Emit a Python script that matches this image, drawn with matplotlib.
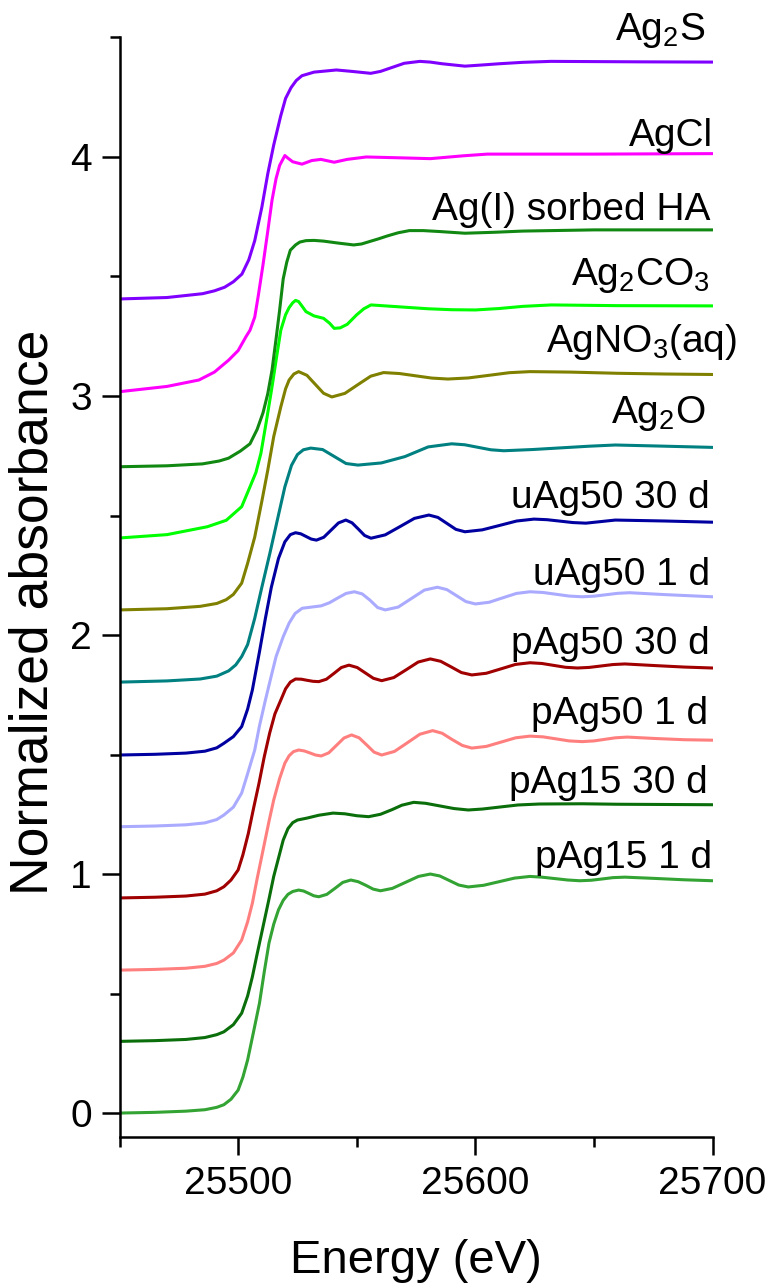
import numpy as np
import matplotlib.pyplot as plt
from matplotlib.ticker import MultipleLocator

plt.rcParams['font.family'] = ['Liberation Sans', 'DejaVu Sans']
plt.rcParams['mathtext.fontset'] = 'custom'
plt.rcParams['mathtext.rm'] = 'Liberation Sans'

#----------------------------------------------------------#
# Stacked Ag K-edge XANES spectra (values as plotted)      #
#----------------------------------------------------------#

e_pag15_1d = [25450, 25465, 25478, 25486, 25491, 25494, 25497, 25500, 25502, 25504, 25506.5, 25509,
              25511, 25513, 25515, 25517, 25519, 25521, 25523, 25525.5, 25527.6, 25529.8, 25531.9, 25534,
              25537.4, 25540.8, 25544.1, 25547.5, 25550.6, 25553.8, 25556.9, 25560, 25565, 25570.5, 25576, 25581,
              25585, 25589, 25593, 25597, 25603.5, 25610, 25616.5, 25623, 25628, 25633.5, 25639, 25644,
              25648.8, 25653.5, 25658, 25663, 25675, 25688, 25700]
a_pag15_1d = [0.0, 0.003, 0.008, 0.014, 0.024, 0.035, 0.058, 0.096, 0.15, 0.222, 0.34, 0.46,
              0.59, 0.711, 0.79, 0.85, 0.89, 0.915, 0.927, 0.933, 0.929, 0.919, 0.909, 0.905,
              0.915, 0.94, 0.965, 0.975, 0.968, 0.953, 0.937, 0.93, 0.94, 0.965, 0.99, 1.0,
              0.992, 0.973, 0.954, 0.946, 0.953, 0.968, 0.983, 0.99, 0.987, 0.981, 0.975, 0.972,
              0.974, 0.9795, 0.985, 0.987, 0.982, 0.976, 0.972]

e_pag15_30d = [25450, 25465, 25478, 25486, 25491, 25494, 25498, 25501.5, 25504, 25506, 25508, 25510.5,
               25513, 25515, 25517, 25519, 25521, 25523, 25525, 25529, 25534, 25540, 25545, 25550,
               25555, 25560, 25565, 25569, 25574, 25579, 25585, 25591, 25597, 25603, 25610, 25618,
               25627, 25645, 25660, 25680, 25700]
a_pag15_30d = [0.30, 0.303, 0.308, 0.316, 0.328, 0.34, 0.37, 0.418, 0.49, 0.57, 0.665, 0.78,
               0.895, 0.99, 1.066, 1.142, 1.19, 1.215, 1.226, 1.234, 1.246, 1.255, 1.252, 1.244,
               1.24, 1.25, 1.27, 1.288, 1.30, 1.296, 1.285, 1.274, 1.268, 1.272, 1.28, 1.289,
               1.293, 1.294, 1.292, 1.291, 1.29]

e_pag50_1d = [25450, 25465, 25478, 25486, 25491, 25494, 25498, 25501.5, 25504, 25506, 25508, 25510.5,
              25513, 25515, 25517.5, 25519.7, 25521.5, 25523.3, 25525.5, 25527.9, 25530.3, 25532.6, 25535, 25538.2,
              25541.4, 25544.6, 25547.8, 25551, 25554.2, 25557.3, 25560.5, 25565.9, 25571.3, 25576.6, 25582, 25586,
              25590, 25594.5, 25598.5, 25604.6, 25610.8, 25617, 25623, 25628.5, 25634, 25639.5, 25645, 25650,
              25654.5, 25659, 25664, 25676, 25688, 25700]
a_pag50_1d = [0.598, 0.601, 0.606, 0.614, 0.626, 0.64, 0.67, 0.724, 0.80, 0.878, 0.98, 1.10,
              1.22, 1.31, 1.40, 1.464, 1.495, 1.512, 1.519, 1.515, 1.5065, 1.498, 1.494, 1.507,
              1.538, 1.569, 1.582, 1.57, 1.54, 1.51, 1.498, 1.513, 1.549, 1.585, 1.60, 1.589,
              1.564, 1.538, 1.527, 1.534, 1.552, 1.57, 1.577, 1.574, 1.5655, 1.557, 1.554, 1.557,
              1.5635, 1.57, 1.573, 1.567, 1.562, 1.56]

e_pag50_30d = [25450, 25465, 25478, 25486, 25491, 25494, 25497, 25500, 25502, 25504.3, 25506.5, 25508.8,
               25511, 25513.3, 25515.5, 25518, 25520, 25522, 25524.2, 25526.6, 25529.1, 25531.5, 25534, 25537.2,
               25540.4, 25543.5, 25546.7, 25550.2, 25553.6, 25557, 25560.5, 25565.6, 25570.8, 25575.9, 25581, 25585.4,
               25589.8, 25594.1, 25598.5, 25604.6, 25610.8, 25616.9, 25623, 25628, 25633, 25638, 25643, 25648,
               25653, 25658, 25663, 25676, 25688, 25700]
a_pag50_30d = [0.90, 0.903, 0.908, 0.916, 0.93, 0.947, 0.975, 1.017, 1.08, 1.17, 1.275, 1.38,
               1.49, 1.59, 1.67, 1.728, 1.775, 1.803, 1.816, 1.8152, 1.8105, 1.8064, 1.805, 1.815,
               1.8395, 1.864, 1.874, 1.864, 1.8415, 1.819, 1.809, 1.822, 1.8545, 1.887, 1.90, 1.89,
               1.8665, 1.843, 1.833, 1.84, 1.8585, 1.877, 1.884, 1.881, 1.873, 1.865, 1.862, 1.8645,
               1.8705, 1.8765, 1.879, 1.872, 1.866, 1.862]

e_uag50_1d = [25450, 25465, 25478, 25486, 25491, 25494, 25498, 25501.5, 25504, 25507, 25509, 25511.5,
              25514, 25516, 25519, 25521.5, 25524, 25527, 25531, 25535, 25538.5, 25542, 25545.5, 25549,
              25552.3, 25555.5, 25558.8, 25562, 25567.5, 25573, 25578.5, 25584, 25588, 25592, 25596, 25600,
              25605.8, 25611.5, 25617.3, 25623, 25628.5, 25634, 25639.5, 25645, 25650, 25655, 25660, 25665,
              25680, 25700]
a_uag50_1d = [1.198, 1.201, 1.206, 1.214, 1.228, 1.247, 1.28, 1.339, 1.42, 1.519, 1.62, 1.728,
              1.83, 1.91, 1.993, 2.05, 2.09, 2.112, 2.117, 2.122, 2.135, 2.155, 2.174, 2.181,
              2.172, 2.1465, 2.115, 2.105, 2.117, 2.1525, 2.188, 2.20, 2.19, 2.165, 2.14, 2.13,
              2.137, 2.1555, 2.174, 2.181, 2.178, 2.1705, 2.163, 2.16, 2.1625, 2.1685, 2.1745, 2.177,
              2.169, 2.16]

e_uag50_30d = [25450, 25465, 25478, 25486, 25491, 25494, 25498, 25501.5, 25504, 25506, 25509, 25511.5,
               25514, 25517, 25519.7, 25522, 25524.2, 25526.4, 25528.6, 25530.8, 25533, 25536.1, 25539.2, 25542.3,
               25545.4, 25548, 25550.7, 25553.3, 25556, 25562, 25568.2, 25574.3, 25580.4, 25584.2, 25588, 25591.8,
               25595.6, 25602.9, 25610.2, 25617.4, 25624.7, 25630.2, 25635.7, 25641.1, 25646.6, 25652.8, 25659, 25680,
               25700]
a_uag50_30d = [1.498, 1.501, 1.506, 1.514, 1.528, 1.547, 1.575, 1.617, 1.69, 1.77, 1.93, 2.07,
               2.20, 2.32, 2.39, 2.42, 2.428, 2.4235, 2.4125, 2.4015, 2.397, 2.409, 2.439, 2.469,
               2.481, 2.4695, 2.443, 2.4165, 2.405, 2.419, 2.4535, 2.488, 2.502, 2.492, 2.467, 2.442,
               2.432, 2.44, 2.4585, 2.477, 2.485, 2.4825, 2.4765, 2.4705, 2.468, 2.4745, 2.481, 2.477,
               2.472]

e_ag2o = [25450, 25470, 25484, 25491, 25496, 25499, 25501.5, 25504, 25507, 25510, 25513.4, 25516.5,
          25519.7, 25522.5, 25525, 25527.5, 25530.6, 25535.6, 25540.6, 25545.5, 25550.5, 25560.4, 25570.3, 25580.1,
          25590, 25595.5, 25601, 25606.5, 25612, 25624, 25636, 25648, 25659, 25680, 25700]
a_ag2o = [1.803, 1.808, 1.816, 1.828, 1.85, 1.875, 1.91, 1.96, 2.07, 2.20, 2.343, 2.48,
          2.62, 2.71, 2.755, 2.775, 2.782, 2.776, 2.7465, 2.7175, 2.711, 2.72, 2.7465, 2.787,
          2.80, 2.796, 2.7855, 2.775, 2.771, 2.776, 2.783, 2.79, 2.795, 2.79, 2.785]

e_agno3 = [25450, 25470, 25484, 25491, 25495, 25498, 25501.5, 25504, 25507, 25510, 25512.5, 25515,
           25518, 25520, 25521.5, 25523.5, 25525.5, 25529, 25532.5, 25536, 25539.5, 25545, 25550.4, 25555.9,
           25561.3, 25568, 25574.8, 25581.6, 25588.4, 25597, 25605.7, 25614.3, 25623, 25640, 25660, 25680,
           25700]
a_agno3 = [2.105, 2.11, 2.12, 2.132, 2.148, 2.17, 2.217, 2.30, 2.41, 2.56, 2.69, 2.83,
           2.955, 3.03, 3.067, 3.092, 3.102, 3.0865, 3.049, 3.0115, 2.996, 3.011, 3.047, 3.083,
           3.098, 3.094, 3.0845, 3.075, 3.071, 3.0755, 3.0865, 3.0975, 3.102, 3.10, 3.095, 3.092,
           3.09]

e_ag2co3 = [25450, 25470, 25487, 25495, 25501.5, 25505, 25507.5, 25509.6, 25512, 25514.3, 25516, 25518,
            25520, 25521.5, 25523, 25524.2, 25525.5, 25527, 25528.6, 25532, 25536, 25538.5, 25540.5, 25543,
            25546, 25550, 25553, 25556, 25565, 25580, 25590, 25600, 25610, 25620, 25632, 25660,
            25700]
a_ag2co3 = [2.406, 2.42, 2.453, 2.48, 2.537, 2.62, 2.68, 2.76, 2.90, 3.039, 3.15, 3.276,
            3.34, 3.37, 3.39, 3.40, 3.395, 3.375, 3.353, 3.335, 3.325, 3.305, 3.283, 3.285,
            3.30, 3.34, 3.365, 3.381, 3.375, 3.365, 3.361, 3.36, 3.366, 3.375, 3.381, 3.378,
            3.377]

e_agha = [25450, 25470, 25485, 25492, 25496, 25501, 25505, 25508, 25510.5, 25512.5, 25514.3, 25516,
          25517.5, 25519, 25520.5, 25522, 25524.2, 25526, 25528.6, 25532, 25536, 25542, 25548.7, 25552,
          25555, 25559, 25563, 25567.5, 25572.2, 25578, 25585, 25595.6, 25608, 25620, 25650, 25700]
a_agha = [2.704, 2.708, 2.716, 2.728, 2.74, 2.77, 2.80, 2.86, 2.93, 3.01, 3.109, 3.24,
          3.36, 3.49, 3.56, 3.61, 3.632, 3.644, 3.65, 3.651, 3.648, 3.64, 3.632, 3.636,
          3.645, 3.657, 3.67, 3.683, 3.692, 3.692, 3.688, 3.681, 3.685, 3.69, 3.695, 3.695]

e_agcl = [25450, 25470, 25483.5, 25490, 25496, 25500, 25503.3, 25505, 25507, 25508.5, 25510.5, 25512.5,
          25514.3, 25516, 25517.5, 25519.7, 25521, 25523, 25526.9, 25531, 25534.9, 25540.5, 25546, 25554,
          25570, 25581, 25595, 25605, 25650, 25700]
a_agcl = [3.018, 3.04, 3.067, 3.10, 3.15, 3.19, 3.248, 3.275, 3.33, 3.42, 3.55, 3.69,
          3.82, 3.91, 3.965, 4.006, 3.995, 3.98, 3.97, 3.985, 3.99, 3.978, 3.99, 4.0,
          3.996, 3.993, 4.005, 4.012, 4.012, 4.014]

e_ag2s = [25450, 25470, 25485, 25490, 25494.3, 25498, 25501.6, 25504.5, 25507, 25510, 25512.5, 25515,
          25517.9, 25520, 25522.3, 25524.5, 25526.9, 25532, 25541.4, 25548, 25555.9, 25560, 25565, 25570,
          25576.6, 25581, 25586, 25595.6, 25603, 25610, 25620, 25631.8, 25670, 25700]
a_ag2s = [3.406, 3.412, 3.428, 3.44, 3.455, 3.478, 3.51, 3.57, 3.65, 3.79, 3.93, 4.05,
          4.17, 4.245, 4.29, 4.32, 4.34, 4.355, 4.364, 4.358, 4.35, 4.358, 4.375, 4.392,
          4.40, 4.397, 4.39, 4.38, 4.385, 4.39, 4.396, 4.40, 4.398, 4.397]

# sample names (bottom to top)
names = ['pAg15 1 d', 'pAg15 30 d', 'pAg50 1 d', 'pAg50 30 d', 'uAg50 1 d', 'uAg50 30 d',
         r'Ag$_\mathregular{2}$O', r'AgNO$_\mathregular{3}$(aq)', r'Ag$_\mathregular{2}$CO$_\mathregular{3}$',
         'Ag(I) sorbed HA', 'AgCl', r'Ag$_\mathregular{2}$S']

energies = [e_pag15_1d, e_pag15_30d, e_pag50_1d, e_pag50_30d, e_uag50_1d, e_uag50_30d,
            e_ag2o, e_agno3, e_ag2co3, e_agha, e_agcl, e_ag2s]
spectra = [a_pag15_1d, a_pag15_30d, a_pag50_1d, a_pag50_30d, a_uag50_1d, a_uag50_30d,
           a_ag2o, a_agno3, a_ag2co3, a_agha, a_agcl, a_ag2s]

colors = ['#33a333', '#0a6e0a', '#ff7f7f', '#a00000', '#aaaaff', '#0000a0',
          '#008080', '#808000', '#00ff00', '#118811', '#ff00ff', '#8000ff']

# where each name is written: right end (eV), baseline (a.u.)
label_x = [25700, 25698, 25698, 25699, 25699, 25699, 25697, 25710.5, 25699, 25699, 25700, 25697]
label_y = [1.025, 1.339, 1.628, 1.92, 2.209, 2.531, 2.887, 3.186, 3.464, 3.736, 4.047, 4.49]

#----------------------------------------------------------#
# Plot                                                     #
#----------------------------------------------------------#
fig = plt.figure(figsize=(7.74, 12.85), dpi=100)
ax = fig.add_axes([0.1544, 0.1152, 0.7663, 0.8562])

for i in range(len(names)):
    ax.plot(energies[i], spectra[i], color=colors[i], lw=2.2,
            solid_joinstyle='round', solid_capstyle='round')
    ax.text(label_x[i], label_y[i], names[i], ha='right', va='baseline',
            fontsize=28, clip_on=False)

ax.set_xlim(25450, 25700)
ax.set_ylim(-0.1, 4.503)

ax.spines['top'].set_visible(False)
ax.spines['right'].set_visible(False)
for s in ['left', 'bottom']:
    ax.spines[s].set_linewidth(1.8)

ax.xaxis.set_major_locator(MultipleLocator(100))
ax.xaxis.set_minor_locator(MultipleLocator(50))
ax.yaxis.set_major_locator(MultipleLocator(1))
ax.yaxis.set_minor_locator(MultipleLocator(0.5))
ax.tick_params(which='major', direction='out', length=13, width=1.8, labelsize=28)
ax.tick_params(which='minor', direction='out', length=7, width=1.8)
ax.tick_params(axis='x', which='major', pad=8)
ax.tick_params(axis='y', which='major', pad=7)

fig.text(0.5375, 12 / 1285, 'Energy (eV)', ha='center', va='baseline', fontsize=34)
fig.text(48 / 774, 1 - 612 / 1285, 'Normalized absorbance', rotation=90,
         rotation_mode='anchor', ha='center', va='baseline', fontsize=38.5)

fig.savefig('out.png', dpi=100)
